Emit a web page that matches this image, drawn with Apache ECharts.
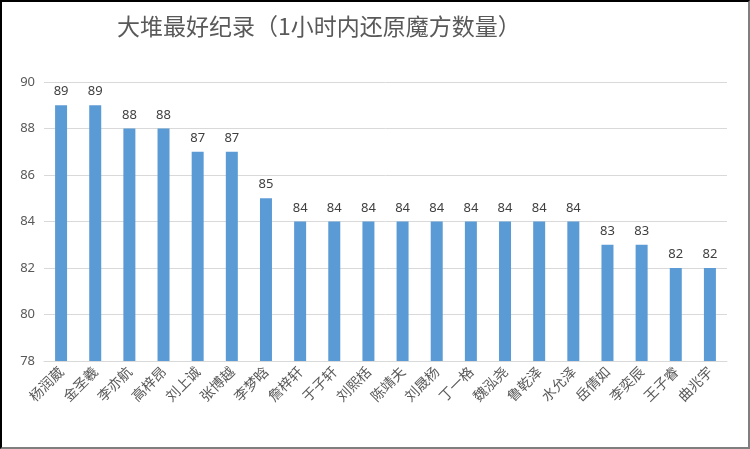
<!DOCTYPE html>
<html>
<head>
<meta charset="utf-8">
<script src="https://cdn.jsdelivr.net/npm/echarts@6/dist/echarts.min.js"></script>
<style>
  html, body { margin: 0; padding: 0; background: #fff; }
  #wrap { position: relative; width: 750px; height: 449px; }
  #chart { width: 750px; height: 449px; }
  #frame {
    position: absolute; left: 0; top: 0; width: 750px; height: 449px;
    box-sizing: border-box; pointer-events: none;
    border-left: 2px solid #000; border-top: 2px solid #000;
    border-right: 2px solid #7f7f7f; border-bottom: 2px solid #7f7f7f;
  }
</style>
</head>
<body>
<div id="wrap">
  <div id="chart"></div>
  <div id="frame"></div>
</div>
<script>
// 名字
const names = ['杨润葳', '金圣羲', '李亦航', '高梓昂', '刘上诚', '张博越', '李梦晗', '詹梓轩', '于子轩', '刘熙栝',
  '陈靖夫', '刘晟杨', '丁一格', '魏泓尧', '鲁乾泽', '水允泽', '岳倩如', '李奕辰', '王子睿', '曲兆宇'];
// 1小时内还原魔方数量
const counts = [89, 89, 88, 88, 87, 87, 85, 84, 84, 84, 84, 84, 84, 84, 84, 84, 83, 83, 82, 82];

const yMin = 78;
const yMax = 90;
const yStep = 2;

const option = {
  animation: false,
  title: {
    text: '大堆最好纪录（1小时内还原魔方数量）',
    left: 112,
    top: 10,
    textStyle: {
      fontFamily: 'Noto Sans CJK SC',
      fontSize: 23,
      fontWeight: 'normal',
      color: '#595959'
    }
  },
  grid: {
    left: 44,
    right: 23,
    top: 82,
    bottom: 88
  },
  xAxis: {
    type: 'category',
    data: names,
    axisLine: { lineStyle: { color: '#d9d9d9', width: 1 } },
    axisTick: { show: false },
    axisLabel: {
      rotate: 45,
      interval: 0,
      margin: 8,
      fontFamily: 'Noto Sans CJK SC',
      fontSize: 14,
      color: '#595959'
    }
  },
  yAxis: {
    type: 'value',
    min: yMin,
    max: yMax,
    interval: yStep,
    axisLine: { show: false },
    axisTick: { show: false },
    splitLine: { lineStyle: { color: '#d9d9d9', width: 1 } },
    axisLabel: {
      margin: 9,
      fontFamily: 'Noto Sans',
      fontSize: 13,
      color: '#595959'
    }
  },
  series: [{
    type: 'bar',
    data: counts,
    barWidth: 12,
    itemStyle: { color: '#5b9bd5' },
    label: {
      show: true,
      position: 'top',
      distance: 7,
      fontFamily: 'Noto Sans',
      fontSize: 13,
      color: '#404040'
    }
  }]
};

const myChart = echarts.init(document.getElementById('chart'));
myChart.setOption(option);
</script>
</body>
</html>
